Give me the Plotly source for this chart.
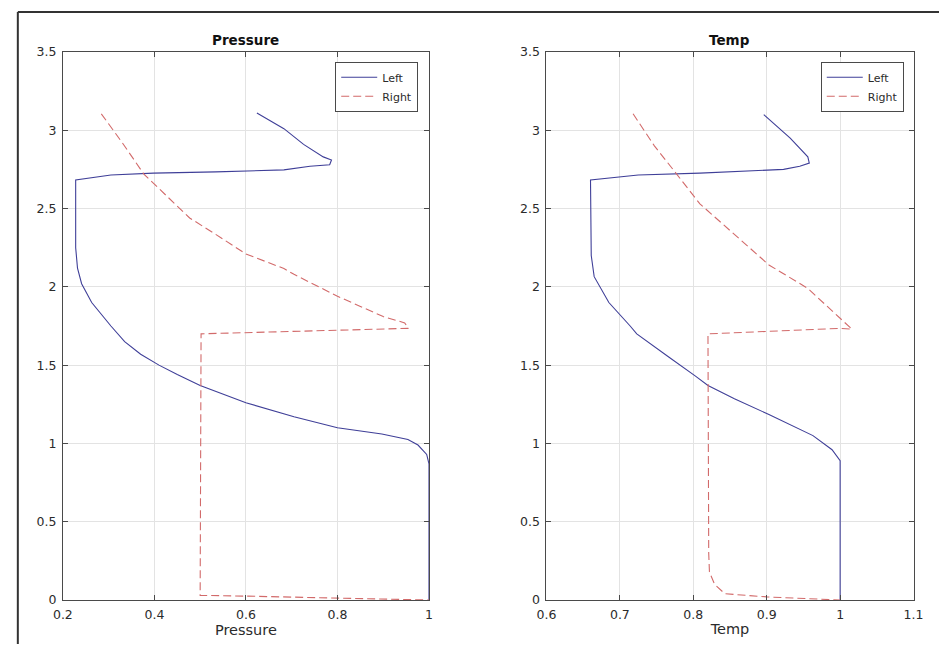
import plotly.graph_objects as go

# Pressure profiles: value along x, position along y
PRESSURE_LEFT_X = [1.0, 1.0, 0.995, 0.976, 0.954, 0.897, 0.80, 0.705, 0.60, 0.541, 0.50, 0.45,
                   0.41, 0.37, 0.335, 0.305, 0.263, 0.241, 0.232, 0.228, 0.228, 0.305, 0.398,
                   0.534, 0.683, 0.74, 0.783, 0.787, 0.769, 0.726, 0.683, 0.624]
PRESSURE_LEFT_Y = [0.0, 0.87, 0.93, 0.99, 1.025, 1.06, 1.10, 1.17, 1.26, 1.327, 1.37, 1.44,
                   1.50, 1.57, 1.65, 1.75, 1.90, 2.02, 2.12, 2.25, 2.683, 2.714, 2.726,
                   2.734, 2.747, 2.77, 2.78, 2.81, 2.83, 2.91, 3.01, 3.11]

PRESSURE_RIGHT_X = [0.284, 0.33, 0.377, 0.43, 0.477, 0.534, 0.60, 0.683, 0.705, 0.80, 0.90,
                    0.947, 0.955, 0.502, 0.50, 0.60, 0.80, 1.0]
PRESSURE_RIGHT_Y = [3.105, 2.92, 2.72, 2.57, 2.44, 2.335, 2.21, 2.117, 2.08, 1.94, 1.81,
                    1.77, 1.735, 1.70, 0.03, 0.025, 0.012, 0.0]

# Temperature profiles
TEMP_LEFT_X = [1.0, 1.0, 0.989, 0.963, 0.903, 0.856, 0.82, 0.803, 0.767, 0.723, 0.714, 0.685,
               0.665, 0.661, 0.66, 0.725, 0.809, 0.923, 0.945, 0.958, 0.956, 0.932, 0.896]
TEMP_LEFT_Y = [0.0, 0.89, 0.96, 1.05, 1.185, 1.285, 1.37, 1.43, 1.55, 1.70, 1.75, 1.90,
               2.065, 2.20, 2.683, 2.714, 2.726, 2.75, 2.77, 2.79, 2.83, 2.95, 3.10]

TEMP_RIGHT_X = [0.718, 0.747, 0.774, 0.809, 0.856, 0.903, 0.956, 1.0, 1.016, 1.0, 0.82,
                0.821, 0.822, 0.829, 0.843, 0.90, 1.0]
TEMP_RIGHT_Y = [3.105, 2.90, 2.74, 2.53, 2.335, 2.14, 1.99, 1.80, 1.73, 1.735, 1.70,
                0.30, 0.18, 0.10, 0.04, 0.02, 0.0]

Y_TICKS = [0, 0.5, 1, 1.5, 2, 2.5, 3, 3.5]
PRESSURE_TICKS = [0.2, 0.4, 0.6, 0.8, 1.0]
TEMP_TICKS = [0.6, 0.7, 0.8, 0.9, 1.0, 1.1]

BLUE = "#3f3f98"
RED = "#d26a6a"
FONT = "DejaVu Sans"
TEXT = "#2b2b2b"
W, H = 949, 651

fig = go.Figure()

fig.add_trace(go.Scatter(x=PRESSURE_LEFT_X, y=PRESSURE_LEFT_Y, mode="lines", name="Left",
                         line=dict(color=BLUE, width=1.1), xaxis="x", yaxis="y", legend="legend"))
fig.add_trace(go.Scatter(x=PRESSURE_RIGHT_X, y=PRESSURE_RIGHT_Y, mode="lines", name="Right",
                         line=dict(color=RED, width=1.1, dash="8px,4px"), xaxis="x", yaxis="y",
                         legend="legend"))
fig.add_trace(go.Scatter(x=TEMP_LEFT_X, y=TEMP_LEFT_Y, mode="lines", name="Left",
                         line=dict(color=BLUE, width=1.1), xaxis="x2", yaxis="y2", legend="legend2"))
fig.add_trace(go.Scatter(x=TEMP_RIGHT_X, y=TEMP_RIGHT_Y, mode="lines", name="Right",
                         line=dict(color=RED, width=1.1, dash="8px,4px"), xaxis="x2", yaxis="y2",
                         legend="legend2"))

# pixel geometry of the two panels
L1, R1 = 54, 428
L2, R2 = 548, 923
TOP, BOT = 45, 606
ydom = [(H - BOT) / H, (H - TOP) / H]

common_axis = dict(showline=True, linecolor="#4a4a4a", linewidth=1, mirror="allticks",
                   ticks="inside", ticklen=5, tickcolor="#4a4a4a", showgrid=True,
                   gridcolor="#e3e3e3", gridwidth=1, zeroline=False,
                   tickfont=dict(family=FONT, size=12.5, color=TEXT))

legend_style = dict(y=(H - 55) / H, xanchor="right", yanchor="top", itemwidth=36,
                    bgcolor="white", bordercolor="#4a4a4a", borderwidth=1,
                    font=dict(family=FONT, size=11, color=TEXT), tracegroupgap=0)

fig.update_layout(
    width=W, height=H, margin=dict(l=0, r=0, t=0, b=0),
    paper_bgcolor="white", plot_bgcolor="white",
    font=dict(family=FONT, color=TEXT),
    xaxis=dict(domain=[L1 / W, R1 / W], range=[0.2, 1.0], tickvals=PRESSURE_TICKS,
               anchor="y", ticklabelstandoff=3,
               title=dict(text="Pressure", font=dict(size=14.5), standoff=2),
               **common_axis),
    yaxis=dict(domain=ydom, range=[0, 3.5], tickvals=Y_TICKS, anchor="x",
               ticklabelstandoff=3, **common_axis),
    xaxis2=dict(domain=[L2 / W, R2 / W], range=[0.6, 1.1], tickvals=TEMP_TICKS,
                anchor="y2", ticklabelstandoff=3,
                title=dict(text="Temp", font=dict(size=14.5), standoff=2),
                **common_axis),
    yaxis2=dict(domain=ydom, range=[0, 3.5], tickvals=Y_TICKS, anchor="x2",
                ticklabelstandoff=3, **common_axis),
    legend=dict(x=417 / W, **legend_style),
    legend2=dict(x=913 / W, **legend_style),
    annotations=[
        dict(text="<b>Pressure</b>", x=(L1 + R1) / 2 / W, y=(H - TOP) / H, xref="paper",
             yref="paper", xanchor="center", yanchor="bottom", showarrow=False, yshift=2,
             font=dict(family=FONT, size=13.5, color="#111")),
        dict(text="<b>Temp</b>", x=(L2 + R2) / 2 / W, y=(H - TOP) / H, xref="paper",
             yref="paper", xanchor="center", yanchor="bottom", showarrow=False, yshift=2,
             font=dict(family=FONT, size=13.5, color="#111")),
    ],
    shapes=[
        dict(type="line", xref="paper", yref="paper", x0=8 / W, x1=8 / W, y0=0, y1=1 - 4 / H,
             line=dict(color="#333", width=2)),
        dict(type="line", xref="paper", yref="paper", x0=8 / W, x1=1, y0=1 - 4 / H, y1=1 - 4 / H,
             line=dict(color="#333", width=2)),
    ],
)

# the page body gets no margin so the figure fills the window exactly
fig.write_html("out.html", post_script="document.body.style.margin='0';")
